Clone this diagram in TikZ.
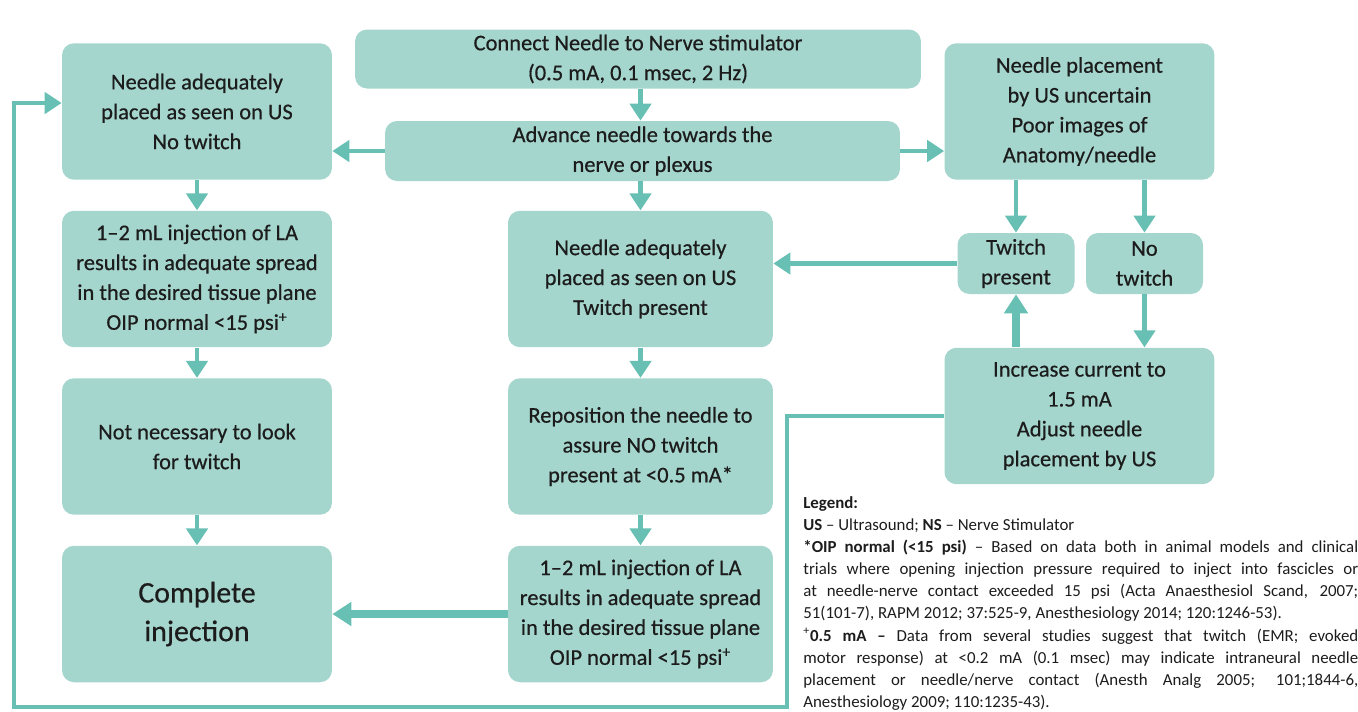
\documentclass[tikz,border=0pt]{standalone}
\usepackage{fontspec}
\setmainfont{Carlito}
\newfontfamily\boxfont{Carlito}[FakeBold=0.5, Ligatures=TeX]
\definecolor{nbBox}{HTML}{A5D6CD}
\definecolor{nbLine}{HTML}{67C0B3}
\definecolor{nbText}{HTML}{1C1C1C}
\usetikzlibrary{arrows.meta,calc}

\tikzset{
  stepbox/.style={fill=nbBox, rounded corners=0.24cm, inner sep=0pt, align=center,
    text=nbText, font=\boxfont\fontsize{12.8}{17}\selectfont},
  colbox/.style={stepbox, minimum width=5.4cm, minimum height=2.73cm},
  midbox/.style={stepbox, minimum width=5.3cm, minimum height=2.73cm},
  smallbox/.style={stepbox, minimum width=2.34cm, minimum height=1.22cm},
  flow/.style={draw=nbLine, line width=2.8pt, -{Triangle[width=0.42cm,length=0.34cm]}},
  bigflow/.style={draw=nbLine, line width=5pt, -{Triangle[width=0.46cm,length=0.38cm]}},
  backflow/.style={draw=nbLine, line width=2.5pt, -{Triangle[width=0.42cm,length=0.34cm]}},
}

\begin{document}
\begin{tikzpicture}[x=0.02cm, y=-0.02cm]
  \useasboundingbox (0,0) rectangle (1358,711);

  % top row
  \node[stepbox, minimum width=11.32cm, minimum height=1.18cm] (connect) at (638,59)
    {Connect Needle to Nerve stimulator\\(0.5 mA, 0.1 msec, 2 Hz)};
  \node[stepbox, minimum width=10.3cm, minimum height=1.2cm] (advance) at (642.5,151)
    {Advance needle towards the\\nerve or plexus};

  % left column
  \node[colbox] (lone) at (197,111.5) {Needle adequately\\placed as seen on US\\No twitch};
  \node[colbox] (ltwo) at (197,279) {1–2 mL injection of LA\\results in adequate spread\\in the desired tissue plane\\OIP normal <15 psi\textsuperscript{+}};
  \node[colbox] (lthree) at (197,446.5) {Not necessary to look\\for twitch};
  \node[colbox, font=\boxfont\fontsize{17}{22}\selectfont] (complete) at (197,614) {Complete\\injection};

  % middle column
  \node[midbox] (mone) at (640.5,279) {Needle adequately\\placed as seen on US\\Twitch present};
  \node[midbox] (mtwo) at (640.5,446.5) {Reposition the needle to\\assure NO twitch\\present at <0.5 mA*};
  \node[midbox] (mthree) at (640.5,614) {1–2 mL injection of LA\\results in adequate spread\\in the desired tissue plane\\OIP normal <15 psi\textsuperscript{+}};

  % right column
  \node[colbox] (uncertain) at (1079.5,111.5) {Needle placement\\by US uncertain\\Poor images of\\Anatomy/needle};
  \node[smallbox] (twitch) at (1016,263.5) {Twitch\\present};
  \node[smallbox] (notwitch) at (1144.5,263.5) {No\\twitch};
  \node[colbox] (increase) at (1079.5,416) {Increase current to\\1.5 mA\\Adjust needle\\placement by US};

  % arrows
  \draw[flow] (connect.south -| mone) -- (advance.north -| mone);
  \draw[flow] (advance.west) -- (advance.west -| lone.east);
  \draw[flow] (advance.east) -- (advance.east -| uncertain.west);
  \draw[flow] (advance.south -| mone) -- (mone.north);
  \draw[flow] (lone) -- (ltwo);
  \draw[flow] (ltwo) -- (lthree);
  \draw[flow] (lthree) -- (complete);
  \draw[flow] (mone) -- (mtwo);
  \draw[flow] (mtwo) -- (mthree);
  \draw[bigflow] (mthree.west) -- (complete.east);
  \draw[flow] (uncertain.south -| twitch) -- (twitch.north);
  \draw[flow] (uncertain.south -| notwitch) -- (notwitch.north);
  \draw[flow] (twitch.west) -- (twitch.west -| mone.east);
  \draw[flow] (notwitch.south) -- (notwitch.south |- increase.north);
  \draw[bigflow] (increase.north -| twitch) -- (twitch.south);

  % return loop
  \coordinate (turn) at (787,707);
  \coordinate (back) at (14,103);
  \draw[backflow] (increase.west) -| (turn) -| (back) -- (back -| lone.west);

  % legend
  \node[anchor=north west, inner sep=0pt, text width=11.1cm, align=justify, text=nbText,
        font=\fontsize{9.6}{12.6}\selectfont] (legend) at (803,496)
    {{\bfseries Legend:}\\
     {\bfseries US} – Ultrasound; {\bfseries NS} – Nerve Stimulator\\
     {\bfseries *OIP normal (<15 psi)} – Based on data both in animal models and clinical\linebreak
     trials where opening injection pressure required to inject into fascicles or\linebreak
     at needle-nerve contact exceeded 15 psi (Acta Anaesthesiol Scand, 2007;\linebreak
     51(101-7), RAPM 2012; 37:525-9, Anesthesiology 2014; 120:1246-53).\\
     \textsuperscript{+}{\bfseries 0.5 mA –} Data from several studies suggest that twitch (EMR; evoked\linebreak
     motor response) at <0.2 mA (0.1 msec) may indicate intraneural needle\linebreak
     placement or needle/nerve contact (Anesth Analg 2005; 101;1844-6,\linebreak
     Anesthesiology 2009; 110:1235-43).};
\end{tikzpicture}
\end{document}
